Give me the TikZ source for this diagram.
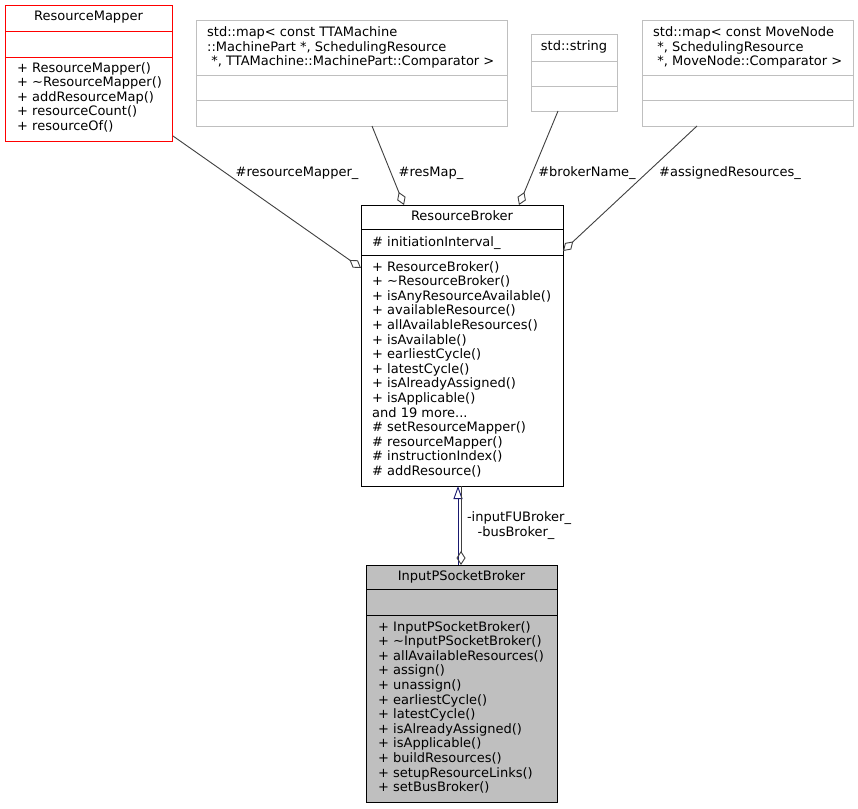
\documentclass[tikz,border=0pt]{standalone}
\usepackage{fontspec}
\setmainfont{DejaVu Sans}
\usetikzlibrary{arrows.meta}
\definecolor{grey75}{HTML}{BFBFBF}
\definecolor{grey25}{HTML}{404040}
\definecolor{navyblue}{HTML}{191970}
\newcommand{\dgfont}{\fontsize{13}{14.6}\selectfont}
\newcommand{\tdots}{...}
\tikzset{
  umlbox/.style={draw, line width=1pt, inner sep=0pt, outer sep=0pt, anchor=north west},
  txt/.style={inner sep=0pt, anchor=base west, font=\dgfont},
  ttl/.style={inner sep=0pt, anchor=base, font=\dgfont},
  lbl/.style={inner sep=0pt, anchor=base, font=\dgfont, text=black},
  conn/.style={draw=grey25, line width=0.9pt},
  agg/.style={conn, -{Diamond[open,length=14pt,width=9pt]}},
  inh/.style={draw=navyblue, line width=0.9pt, -{Triangle[open,length=13pt,width=9pt]}},
}
\begin{document}
\begin{tikzpicture}[x=1pt,y=-1pt]
\useasboundingbox[fill=white] (0,0) rectangle (858,808);

% ResourceMapper
\node[umlbox, draw=red, minimum width=167pt, minimum height=135pt] (rm) at (5,6) {};
\draw[red, line width=1pt] (5,32) -- (172,32) (5,57) -- (172,57);
\node[ttl] (rm-t) at (88.5,21) {ResourceMapper};
\foreach \t [count=\i from 0] in {{+ ResourceMapper()},{+ \textasciitilde ResourceMapper()},{+ addResourceMap()},{+ resourceCount()},{+ resourceOf()}}
  \node[txt] (rm-m\i) at (17,{72+14.6*\i}) {\t};

% std::map TTAMachine
\node[umlbox, draw=grey75, minimum width=311pt, minimum height=105pt] (tta) at (196,21) {};
\draw[grey75, line width=1pt] (196,75) -- (507,75) (196,100) -- (507,100);
\foreach \t [count=\i from 0] in {{std::map< const TTAMachine},{::MachinePart *{,} SchedulingResource},{\ *{,} TTAMachine::MachinePart::Comparator >}}
  \node[txt] (tta-t\i) at (207,{37+14.3*\i}) {\t};

% std::string
\node[umlbox, draw=grey75, minimum width=86pt, minimum height=76pt] (str) at (531,35) {};
\draw[grey75, line width=1pt] (531,61) -- (617,61) (531,86) -- (617,86);
\node[ttl] (str-t) at (574,51) {std::string};

% std::map MoveNode
\node[umlbox, draw=grey75, minimum width=211pt, minimum height=105pt] (mn) at (642,21) {};
\draw[grey75, line width=1pt] (642,75) -- (853,75) (642,100) -- (853,100);
\foreach \t [count=\i from 0] in {{std::map< const MoveNode},{\ *{,} SchedulingResource},{\ *{,} MoveNode::Comparator >}}
  \node[txt] (mn-t\i) at (653,{37+14.3*\i}) {\t};

% ResourceBroker
\node[umlbox, draw=black, minimum width=202pt, minimum height=281pt] (rb) at (361,205) {};
\draw[black, line width=1pt] (361,229) -- (563,229) (361,255) -- (563,255);
\node[ttl] (rb-t) at (462,220) {ResourceBroker};
\node[txt] (rb-a) at (372,246) {\# initiationInterval\_};
\foreach \t [count=\i from 0] in {{+ ResourceBroker()},{+ \textasciitilde ResourceBroker()},{+ isAnyResourceAvailable()},{+ availableResource()},{+ allAvailableResources()},{+ isAvailable()},{+ earliestCycle()},{+ latestCycle()},{+ isAlreadyAssigned()},{+ isApplicable()},{and 19 more\tdots},{\# setResourceMapper()},{\# resourceMapper()},{\# instructionIndex()},{\# addResource()}}
  \node[txt] (rb-m\i) at (372,{271+14.6*\i}) {\t};

% InputPSocketBroker
\node[umlbox, draw=black, fill=grey75, minimum width=191pt, minimum height=237pt] (ip) at (366,565) {};
\draw[black, line width=1pt] (366,589) -- (557,589) (366,615) -- (557,615);
\node[ttl] (ip-t) at (461.5,580) {InputPSocketBroker};
\foreach \t [count=\i from 0] in {{+ InputPSocketBroker()},{+ \textasciitilde InputPSocketBroker()},{+ allAvailableResources()},{+ assign()},{+ unassign()},{+ earliestCycle()},{+ latestCycle()},{+ isAlreadyAssigned()},{+ isApplicable()},{+ buildResources()},{+ setupResourceLinks()},{+ setBusBroker()}}
  \node[txt] (ip-m\i) at (378,{631+14.6*\i}) {\t};

% connector end points
\coordinate (e1s) at (173,136); \coordinate (e1t) at (361,268);
\coordinate (e2s) at (372,126); \coordinate (e2t) at (404,205);
\coordinate (e3s) at (558,111); \coordinate (e3t) at (519,205);
\coordinate (e4s) at (697,126); \coordinate (e4t) at (563,251);
\coordinate (e5s) at (458,565); \coordinate (e5t) at (458,486);
\coordinate (e6s) at (461,486); \coordinate (e6t) at (461,565);

\draw[agg] (e1s) -- (e1t);
\draw[agg] (e2s) -- (e2t);
\draw[agg] (e3s) -- (e3t);
\draw[agg] (e4s) -- (e4t);
\draw[inh] (e5s) -- (e5t);
\draw[agg] (e6s) -- (e6t);

% labels
\node[lbl] (l1) at (297,176) {\#resourceMapper\_};
\node[lbl] (l2) at (431,176) {\#resMap\_};
\node[lbl] (l3) at (587,176) {\#brokerName\_};
\node[lbl] (l4) at (730,176) {\#assignedResources\_};
\node[lbl] (l5) at (519,521) {-inputFUBroker\_};
\node[lbl] (l6) at (516,536) {-busBroker\_};
\end{tikzpicture}
\end{document}
